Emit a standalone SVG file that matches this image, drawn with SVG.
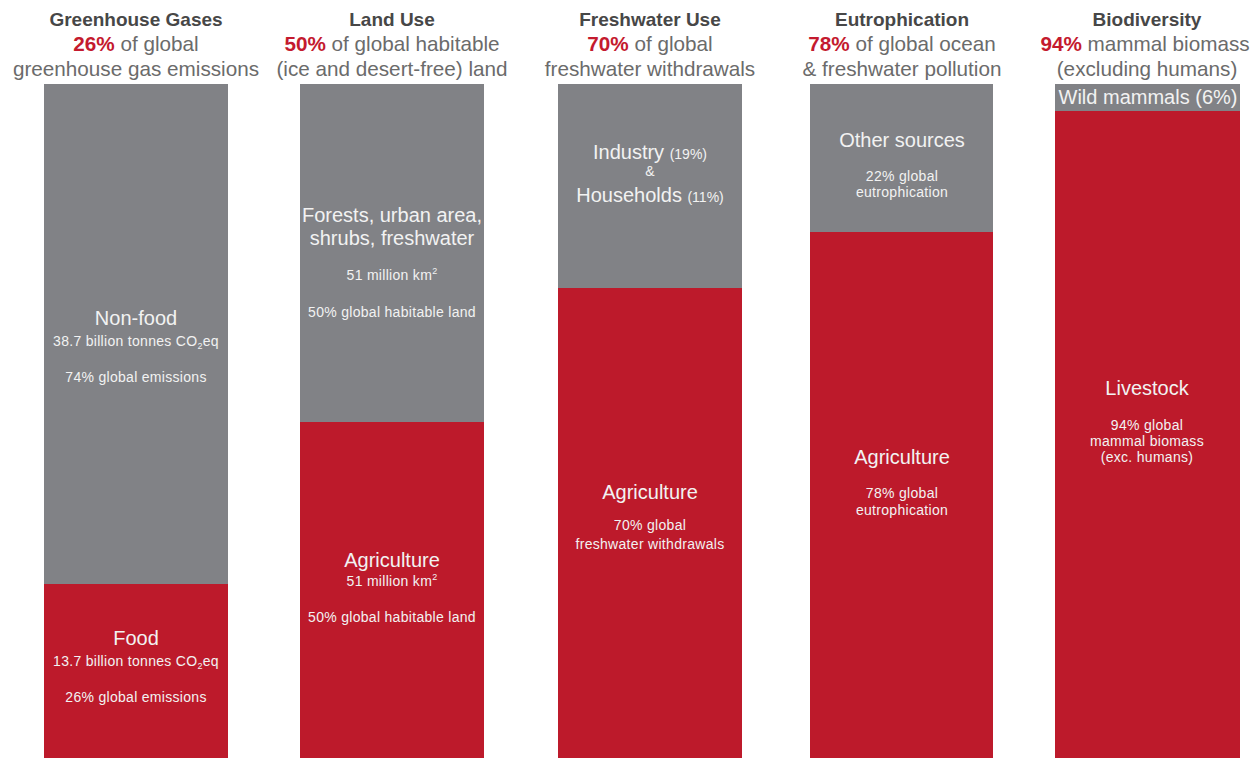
<svg xmlns="http://www.w3.org/2000/svg" width="1259" height="758" viewBox="0 0 1259 758">
<style>
text{font-family:"Liberation Sans",Arial,sans-serif;text-anchor:middle}
.t{font-size:19px;font-weight:bold;fill:#474747}
.h{font-size:20.7px;fill:#6b6b6b}
.p{font-weight:bold;fill:#c41a2e}
.g{fill:#818286}
.r{fill:#bd1a2b}
.m{font-size:20px;fill:#f2f2f2}
.s{font-size:14px;fill:#f2f2f2;letter-spacing:0.3px}
.sm{font-size:14px}
</style>
<rect width="1259" height="758" fill="#ffffff"/>
<g id="col-ghg">
<text class="t" x="136" y="26">Greenhouse Gases</text>
<text class="h" x="136" y="51"><tspan class="p">26%</tspan> of global</text>
<text class="h" x="136" y="76">greenhouse gas emissions</text>
<rect class="g" x="44" y="84" width="184" height="500"/>
<rect class="r" x="44" y="584" width="184" height="174"/>
<text class="m" x="136" y="325">Non-food</text>
<text class="s" x="136" y="346">38.7 billion tonnes CO<tspan font-size="9" dy="3">2</tspan><tspan dy="-3">eq</tspan></text>
<text class="s" x="136" y="382">74% global emissions</text>
<text class="m" x="136" y="645">Food</text>
<text class="s" x="136" y="666">13.7 billion tonnes CO<tspan font-size="9" dy="3">2</tspan><tspan dy="-3">eq</tspan></text>
<text class="s" x="136" y="702">26% global emissions</text>
</g>
<g id="col-land">
<text class="t" x="392" y="26">Land Use</text>
<text class="h" x="392" y="51"><tspan class="p">50%</tspan> of global habitable</text>
<text class="h" x="392" y="76">(ice and desert-free) land</text>
<rect class="g" x="300" y="84" width="184" height="338"/>
<rect class="r" x="300" y="422" width="184" height="336"/>
<text class="m" x="392" y="222">Forests, urban area,</text>
<text class="m" x="392" y="245">shrubs, freshwater</text>
<text class="s" x="392" y="280">51 million km<tspan font-size="9" dy="-6">2</tspan></text>
<text class="s" x="392" y="317">50% global habitable land</text>
<text class="m" x="392" y="567">Agriculture</text>
<text class="s" x="392" y="586">51 million km<tspan font-size="9" dy="-6">2</tspan></text>
<text class="s" x="392" y="622">50% global habitable land</text>
</g>
<g id="col-fresh">
<text class="t" x="650" y="26">Freshwater Use</text>
<text class="h" x="650" y="51"><tspan class="p">70%</tspan> of global</text>
<text class="h" x="650" y="76">freshwater withdrawals</text>
<rect class="g" x="558" y="84" width="184" height="204"/>
<rect class="r" x="558" y="288" width="184" height="470"/>
<text class="m" x="650" y="159">Industry <tspan class="sm">(19%)</tspan></text>
<text class="s" x="650" y="176">&amp;</text>
<text class="m" x="650" y="202">Households <tspan class="sm">(11%)</tspan></text>
<text class="m" x="650" y="499">Agriculture</text>
<text class="s" x="650" y="530">70% global</text>
<text class="s" x="650" y="549">freshwater withdrawals</text>
</g>
<g id="col-eutro">
<text class="t" x="902" y="26">Eutrophication</text>
<text class="h" x="902" y="51"><tspan class="p">78%</tspan> of global ocean</text>
<text class="h" x="902" y="76">&amp; freshwater pollution</text>
<rect class="g" x="810" y="84" width="183" height="148"/>
<rect class="r" x="810" y="232" width="183" height="526"/>
<text class="m" x="902" y="147">Other sources</text>
<text class="s" x="902" y="181">22% global</text>
<text class="s" x="902" y="197">eutrophication</text>
<text class="m" x="902" y="464">Agriculture</text>
<text class="s" x="902" y="498">78% global</text>
<text class="s" x="902" y="515">eutrophication</text>
</g>
<g id="col-bio">
<text class="t" x="1147" y="26">Biodiversity</text>
<text class="h" x="1145" y="51"><tspan class="p">94%</tspan> mammal biomass</text>
<text class="h" x="1147" y="76">(excluding humans)</text>
<rect class="g" x="1055" y="84" width="185" height="27"/>
<rect class="r" x="1055" y="111" width="185" height="647"/>
<text class="m" x="1148" y="104" font-size="16.6">Wild mammals (6%)</text>
<text class="m" x="1147" y="395">Livestock</text>
<text class="s" x="1147" y="430">94% global</text>
<text class="s" x="1147" y="446">mammal biomass</text>
<text class="s" x="1147" y="462">(exc. humans)</text>
</g>
</svg>
